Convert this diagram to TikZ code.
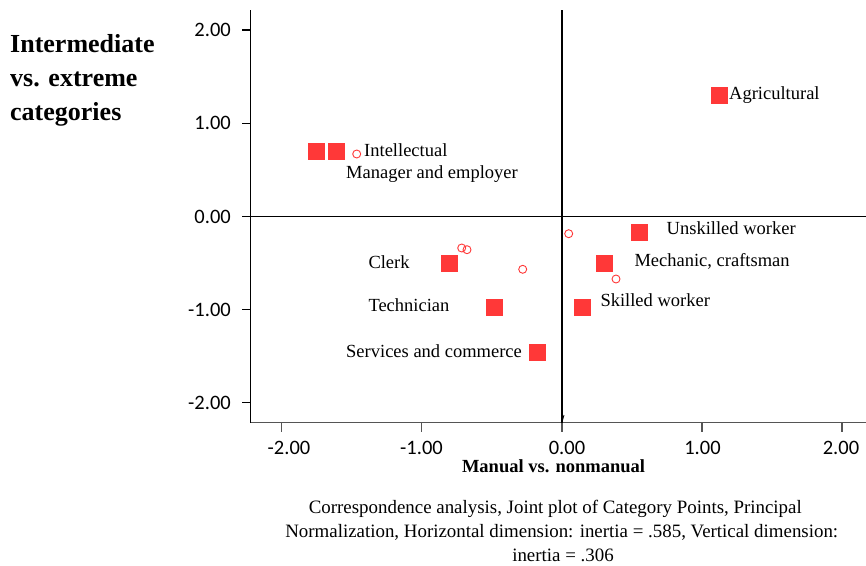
\documentclass[tikz,border=0pt]{standalone}
\usepackage{fontspec}
\setmainfont{Liberation Serif}
\newfontfamily\tickfont{Carlito}
\definecolor{ptred}{HTML}{FF3838}
\definecolor{axgray}{HTML}{555555}
\begin{document}
\begin{tikzpicture}[x=1pt,y=-1pt,
  sq/.style={rectangle,fill=ptred,draw=none,minimum size=17pt,inner sep=0pt},
  circ/.style={circle,draw=ptred,line width=0.9pt,minimum size=8pt,inner sep=0pt},
  lbl/.style={anchor=west,inner sep=0pt,font=\fontsize{18.5}{22}\selectfont},
  ytick/.style={anchor=east,inner sep=0pt,font=\tickfont\fontsize{20.5}{24}\selectfont},
  xtick/.style={anchor=center,inner sep=0pt,font=\tickfont\fontsize{20.5}{24}\selectfont},
  ttl/.style={anchor=base west,inner sep=0pt,font=\bfseries\fontsize{26}{30}\selectfont},
  captxt/.style={anchor=base,inner sep=0pt,font=\fontsize{18.9}{22}\selectfont},
  axis/.style={line width=1.2pt,black}]
\useasboundingbox (0,0) rectangle (866,565);
% axes
\draw[axis] (250.5,10) -- (250.5,422.5);
\draw[line width=1.5pt,axgray] (250.5,422.5) -- (866,422.5);
\draw[axis] (562,10) -- (562,422.5);
\draw[axis] (250.5,216.5) -- (866,216.5);
\draw[line width=0.8pt] (562,422) -- (564,415);
% y ticks
\foreach \yy in {30,123.3,216.5,309.5,402.5} \draw[axis] (242,\yy) -- (250.5,\yy);
\foreach \xx in {281.5,421.5,562,702,842} \draw[line width=1.2pt,axgray] (\xx,422.5) -- (\xx,431.5);
\node[ytick] (y2) at (231,30) {2.00};
\node[ytick] (y1) at (231,123.3) {1.00};
\node[ytick] (y0) at (231,216.5) {0.00};
\node[ytick] (ym1) at (231,309.5) {-1.00};
\node[ytick] (ym2) at (231,402.5) {-2.00};
\node[xtick] (xm2) at (289,447.5) {-2.00};
\node[xtick] (xm1) at (421.5,447.5) {-1.00};
\node[xtick] (x0) at (567,447.5) {0.00};
\node[xtick] (x1) at (702.5,447.5) {1.00};
\node[xtick] (x2) at (841,447.5) {2.00};
\node[anchor=center,inner sep=0pt,font=\bfseries\fontsize{18.5}{22}\selectfont] (xlab) at (553.5,466) {Manual vs. nonmanual};
% title
\node[ttl] (t1) at (10,52.3) {Intermediate};
\node[ttl] (t2) at (10,86.7) {vs. extreme};
\node[ttl] (t3) at (10,120.5) {categories};
% squares
\node[sq] (intel1) at (316,151) {};
\node[sq] (intel2) at (336.7,151) {};
\node[sq] (agri) at (719,95.5) {};
\node[sq] (unsk) at (639.5,232) {};
\node[sq] (mech) at (604,263) {};
\node[sq] (skil) at (582.3,307) {};
\node[sq] (clerk) at (449,263) {};
\node[sq] (tech) at (494.3,307) {};
\node[sq] (serv) at (537,352) {};
% circles
\node[circ] (c1) at (356.7,154) {};
\node[circ] (c2) at (568.7,233.7) {};
\node[circ] (c3) at (616,279) {};
\node[circ] (c4) at (461.7,248) {};
\node[circ] (c5) at (467,249.7) {};
\node[circ] (c6) at (522.7,269.3) {};
% labels
\node[lbl] (lintel) at (364,150) {Intellectual};
\node[lbl] (lman) at (346,174.5) {Manager and employer};
\node[lbl] (lagri) at (729,95) {Agricultural};
\node[lbl] (lunsk) at (666.5,228) {Unskilled worker};
\node[lbl] (lmech) at (634.3,261.7) {Mechanic, craftsman};
\node[lbl] (lskil) at (600.3,300) {Skilled worker};
\node[lbl] (lclerk) at (368.3,261.7) {Clerk};
\node[lbl] (ltech) at (368.3,305.3) {Technician};
\node[lbl] (lserv) at (346,350.7) {Services and commerce};
% caption
\node[captxt] (cap1) at (555.3,513) {Correspondence analysis, Joint plot of Category Points, Principal};
\node[captxt] (cap2) at (561.7,537) {Normalization, Horizontal dimension: inertia = .585, Vertical dimension:};
\node[captxt] (cap3) at (563,561.5) {inertia = .306};
\end{tikzpicture}
\end{document}
